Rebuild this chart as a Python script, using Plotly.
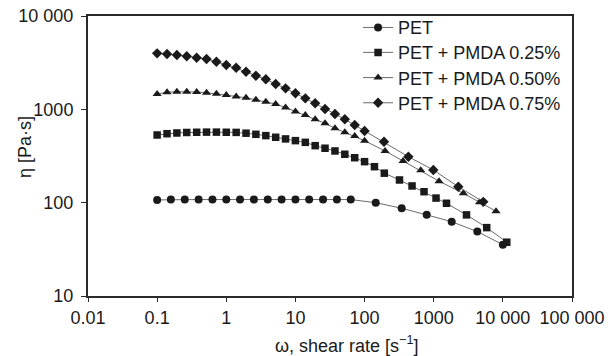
import plotly.graph_objects as go

# ---- data ----
pet_x = [0.1, 0.158, 0.251, 0.398, 0.631, 1, 1.58, 2.51, 3.98, 6.31, 10, 15.8, 25.1,
         39.8, 63.1, 145, 344, 792, 1820, 4270, 10000]
pet_y = [107, 108, 108, 108, 108, 108, 108, 108, 108, 108, 108, 108, 108,
         108, 108, 100, 87, 74, 62.5, 49, 35.5]

p25_x = [0.1, 0.139, 0.193, 0.268, 0.373, 0.518, 0.72, 1, 1.39, 1.93, 2.68, 3.73, 5.18,
         7.2, 10, 13.9, 19.3, 26.8, 37.3, 51.8, 72, 100, 139, 193, 320, 486, 724, 1080,
         1531, 2980, 5840, 11400]
p25_y = [531, 548, 558, 565, 568, 570, 570, 568, 566, 555, 540, 523, 502,
         482, 462, 443, 408, 383, 358, 330, 303, 275, 243, 207, 175, 151, 131, 112,
         98.5, 74, 54, 37.7]

p50_x = [0.1, 0.139, 0.193, 0.268, 0.373, 0.518, 0.72, 1, 1.39, 1.93, 2.68, 3.73, 5.18,
         7.2, 10, 13.9, 19.3, 26.8, 37.3, 51.8, 72, 100, 198, 360, 649, 1194, 2680,
         4590, 7960]
p50_y = [1459, 1523, 1545, 1545, 1534, 1507, 1470, 1425, 1375, 1330, 1268, 1207, 1140,
         1045, 950, 869, 782, 708, 626, 568, 518, 461, 358, 280, 222, 170, 126,
         101, 81]

p75_x = [0.1, 0.139, 0.193, 0.268, 0.373, 0.518, 0.72, 1, 1.39, 1.93, 2.68, 3.73, 5.18,
         7.2, 10, 13.9, 19.3, 26.8, 37.3, 51.8, 72, 100, 191, 430, 987, 2270, 5210]
p75_y = [3981, 3917, 3822, 3700, 3574, 3459, 3236, 2985, 2793, 2530, 2291, 2098, 1868,
         1679, 1485, 1312, 1161, 1009, 892, 782, 679, 586, 450, 311, 224, 148, 102]

series_names = ["PET", "PET + PMDA 0.25%", "PET + PMDA 0.50%", "PET + PMDA 0.75%"]

x_tickvals = [0.01, 0.1, 1, 10, 100, 1000, 10000, 100000]
x_ticktext = ["0.01", "0.1", "1", "10", "100", "1000", "10 000", "100 000"]
y_tickvals = [10, 100, 1000, 10000]
y_ticktext = ["10", "100", "1000", "10 000"]

FONT = "Arial, Liberation Sans, Helvetica, sans-serif"
INK = "#1a1a1a"
LINE = "#6b6b6b"
FS = 18

fig = go.Figure()
specs = [
    (pet_x, pet_y, "circle", 8),
    (p25_x, p25_y, "square", 7.5),
    (p50_x, p50_y, "triangle-up", 8),
    (p75_x, p75_y, "diamond", 8),
]
legend_ids = ["legend", "legend2", "legend3", "legend4"]
for (xs, ys, sym, sz), name, lid in zip(specs, series_names, legend_ids):
    fig.add_trace(go.Scatter(
        x=xs, y=ys, name=name, mode="lines+markers", legend=lid,
        line=dict(color=LINE, width=1),
        marker=dict(symbol=sym, size=sz, color=INK, line=dict(width=0)),
    ))

axis_common = dict(
    type="log", showline=True, linewidth=2, linecolor="#2a2a2a", mirror=True,
    ticks="outside", tickcolor="#2a2a2a", tickwidth=1.2, showgrid=False, zeroline=False,
    automargin=False,
    tickfont=dict(family=FONT, size=FS, color=INK),
)

fig.update_xaxes(range=[-2, 5], tickvals=x_tickvals, ticktext=x_ticktext,
                 ticklen=4, **axis_common)
fig.update_yaxes(range=[1, 4], tickvals=y_tickvals, ticktext=y_ticktext,
                 ticklen=5, ticklabelstandoff=4, **axis_common)

fig.add_annotation(text="η [Pa·s]", xref="paper", yref="paper", x=-0.130, y=0.532,
                   textangle=-90, showarrow=False, xanchor="center", yanchor="middle",
                   font=dict(family=FONT, size=FS, color=INK))
fig.add_annotation(text="ω, shear rate [s<sup>−1</sup>]", xref="paper", yref="paper",
                   x=0.534, y=-0.172, showarrow=False, xanchor="center", yanchor="middle",
                   font=dict(family=FONT, size=FS, color=INK))

leg_y = [0.958, 0.869, 0.779, 0.689]
leg_common = dict(x=0.558, xanchor="left", yanchor="middle",
                  font=dict(family=FONT, size=FS, color=INK),
                  bgcolor="rgba(0,0,0,0)", borderwidth=0)
fig.update_layout(
    width=610, height=356,
    margin=dict(l=88, r=38, t=16, b=60, autoexpand=False),
    paper_bgcolor="white", plot_bgcolor="white",
    showlegend=True,
    legend=dict(y=leg_y[0], **leg_common),
    legend2=dict(y=leg_y[1], **leg_common),
    legend3=dict(y=leg_y[2], **leg_common),
    legend4=dict(y=leg_y[3], **leg_common),
    font=dict(family=FONT, size=FS, color=INK),
)

fig.write_html(
    "out.html",
    config={"displayModeBar": False},
    post_script="document.body.style.margin='0';document.body.style.overflow='hidden';",
)
